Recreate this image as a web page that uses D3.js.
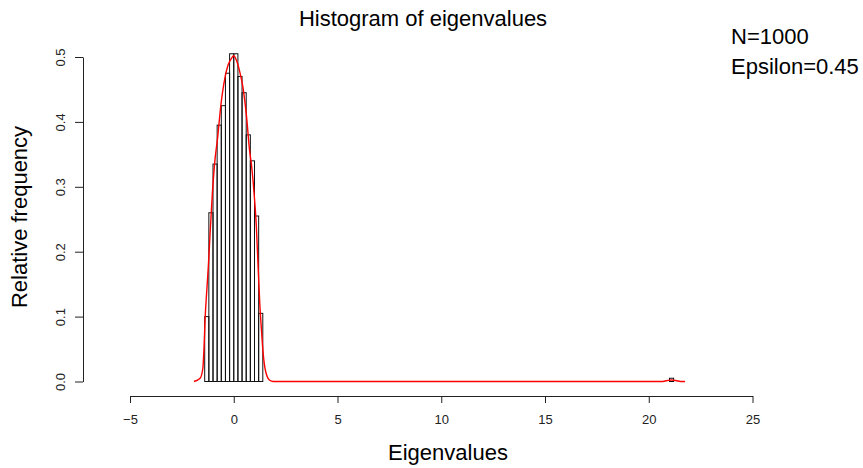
<!DOCTYPE html>
<html>
<head>
<meta charset="utf-8">
<script src="https://cdn.jsdelivr.net/npm/d3@7"></script>
<style>
  html, body { margin: 0; padding: 0; background: #fff; }
  svg { display: block; font-family: "Liberation Sans", Arial, sans-serif; }
</style>
</head>
<body>
<svg id="chart" width="863" height="468"></svg>
<script>
// ---- data ----
const binLeft  = [-1.4, -1.2, -1.0, -0.8, -0.6, -0.4, -0.2, 0.0, 0.2, 0.4, 0.6, 0.8, 1.0, 1.2, 21.0];
const binRight = [-1.2, -1.0, -0.8, -0.6, -0.4, -0.2, 0.0, 0.2, 0.4, 0.6, 0.8, 1.0, 1.2, 1.4, 21.2];
const relFreq  = [0.100, 0.260, 0.335, 0.395, 0.425, 0.475, 0.505, 0.505, 0.470, 0.445, 0.380, 0.340, 0.255, 0.105, 0.005];

const densX = [-1.92, -1.62, -1.49, -1.43, -1.38, -1.30, -1.22, -1.14, -1.03, -0.91, -0.78, -0.62, -0.43, -0.27, -0.11, 0.0,
               0.13, 0.29, 0.45, 0.61, 0.77, 0.85, 0.98, 1.09, 1.17, 1.25, 1.33, 1.41, 1.54, 1.73, 1.90,
               20.6, 20.9, 21.1, 21.3, 21.6, 21.75];
const densY = [0.0, 0.005, 0.02, 0.054, 0.097, 0.14, 0.18, 0.228, 0.29, 0.34, 0.375, 0.426, 0.467, 0.488, 0.498, 0.502,
               0.495, 0.477, 0.452, 0.41, 0.354, 0.335, 0.29, 0.238, 0.18, 0.123, 0.082, 0.046, 0.015, 0.002, 0.0,
               0.0, 0.0015, 0.0023, 0.0015, 0.0, 0.0];

const xTicks = [-5, 0, 5, 10, 15, 20, 25];
const yTicks = [0.0, 0.1, 0.2, 0.3, 0.4, 0.5];

const titleText = "Histogram of eigenvalues";
const xLabel = "Eigenvalues";
const yLabel = "Relative frequency";
const notes = ["N=1000", "Epsilon=0.45"];

// ---- drawing ----
const svg = d3.select("#chart");
const x = d3.scaleLinear().domain([-5, 25]).range([130, 752.5]);
const y = d3.scaleLinear().domain([0, 0.5]).range([381.5, 57]);

// histogram bars
const bars = binLeft.map((l, i) => ({l, r: binRight[i], v: relFreq[i]}));
svg.append("g").selectAll("rect").data(bars).join("rect")
  .attr("x", d => x(d.l))
  .attr("y", d => y(d.v))
  .attr("width", d => x(d.r) - x(d.l))
  .attr("height", d => y(0) - y(d.v))
  .attr("fill", "none")
  .attr("stroke", "#111")
  .attr("stroke-width", 1);

// density curve
const pts = densX.map((v, i) => [v, densY[i]]);
svg.append("path")
  .datum(pts)
  .attr("fill", "none")
  .attr("stroke", "#ff0000")
  .attr("stroke-width", 1.4)
  .attr("d", d3.line().x(d => x(d[0])).y(d => y(d[1])).curve(d3.curveMonotoneX));

// x axis
const gx = svg.append("g")
  .attr("transform", "translate(0,396)")
  .call(d3.axisBottom(x).tickValues(xTicks).tickSizeOuter(0).tickSizeInner(7).tickPadding(12).tickFormat(d3.format("d")));
gx.selectAll("text").attr("font-size", 13).attr("fill", "#222").attr("font-family", "Liberation Sans, Arial, sans-serif");
gx.selectAll("line, path").attr("stroke", "#222");

// y axis
const gy = svg.append("g")
  .attr("transform", "translate(83,0)")
  .call(d3.axisLeft(y).tickValues(yTicks).tickSizeOuter(0).tickSizeInner(8).tickFormat(d3.format(".1f")));
gy.selectAll("line, path").attr("stroke", "#222");
gy.selectAll("text")
  .attr("font-size", 13).attr("fill", "#222").attr("font-family", "Liberation Sans, Arial, sans-serif")
  .attr("transform", "rotate(-90)")
  .attr("x", 0).attr("y", -18).attr("dy", 0)
  .attr("text-anchor", "middle");

// title
svg.append("text")
  .attr("x", 423).attr("y", 26).attr("text-anchor", "middle")
  .attr("font-size", 22).attr("fill", "#000")
  .text(titleText);

// x label
svg.append("text")
  .attr("x", 448).attr("y", 460).attr("text-anchor", "middle")
  .attr("font-size", 22).attr("fill", "#000")
  .text(xLabel);

// y label
svg.append("text")
  .attr("transform", "translate(27,217) rotate(-90)")
  .attr("text-anchor", "middle")
  .attr("font-size", 22).attr("fill", "#000")
  .text(yLabel);

// notes
svg.append("g").selectAll("text").data(notes).join("text")
  .attr("x", 731).attr("y", (d, i) => 44 + i * 29.5)
  .attr("font-size", 22).attr("fill", "#000")
  .text(d => d);
</script>
</body>
</html>
